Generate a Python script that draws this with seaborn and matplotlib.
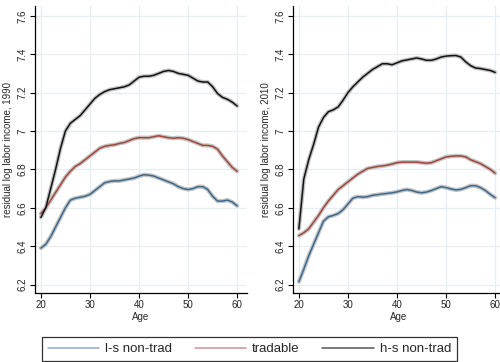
import numpy as np
import pandas as pd
import matplotlib
matplotlib.use('Agg')
import matplotlib.pyplot as plt
import seaborn as sns
from matplotlib.ticker import FormatStrFormatter, MultipleLocator

# Idades
idades = list(range(20, 61))
grupos = ['l-s non-trad', 'tradable', 'h-s non-trad']

# 1990
ls_1990 = [6.39, 6.41, 6.45, 6.50, 6.55, 6.60, 6.64, 6.65, 6.655, 6.66, 6.67,
           6.69, 6.71, 6.73, 6.737, 6.74, 6.74, 6.745, 6.75, 6.755, 6.765,
           6.772, 6.77, 6.765, 6.755, 6.745, 6.735, 6.725, 6.71, 6.70, 6.695,
           6.70, 6.71, 6.71, 6.695, 6.66, 6.635, 6.635, 6.64, 6.63, 6.61]
trad_1990 = [6.57, 6.60, 6.64, 6.68, 6.72, 6.76, 6.79, 6.815, 6.83, 6.85, 6.87,
             6.89, 6.91, 6.92, 6.925, 6.928, 6.935, 6.94, 6.95, 6.96, 6.965,
             6.965, 6.965, 6.97, 6.975, 6.97, 6.965, 6.962, 6.965, 6.962, 6.955,
             6.945, 6.935, 6.925, 6.925, 6.92, 6.905, 6.87, 6.84, 6.81, 6.79]
hs_1990 = [6.55, 6.60, 6.70, 6.80, 6.91, 7.00, 7.04, 7.06, 7.08, 7.11, 7.14,
           7.17, 7.19, 7.205, 7.215, 7.22, 7.225, 7.23, 7.24, 7.26, 7.28,
           7.285, 7.285, 7.29, 7.30, 7.31, 7.315, 7.31, 7.30, 7.295, 7.29,
           7.275, 7.26, 7.255, 7.255, 7.23, 7.195, 7.175, 7.165, 7.15, 7.13]

# 2010
ls_2010 = [6.215, 6.28, 6.35, 6.41, 6.47, 6.53, 6.553, 6.56, 6.57, 6.59, 6.62,
           6.65, 6.658, 6.655, 6.658, 6.665, 6.668, 6.672, 6.675, 6.678, 6.683,
           6.69, 6.695, 6.69, 6.682, 6.678, 6.682, 6.69, 6.70, 6.71, 6.705,
           6.698, 6.693, 6.696, 6.705, 6.715, 6.715, 6.705, 6.69, 6.67, 6.652]
trad_2010 = [6.455, 6.47, 6.49, 6.525, 6.56, 6.60, 6.635, 6.665, 6.695, 6.715, 6.735,
             6.755, 6.775, 6.79, 6.805, 6.81, 6.815, 6.818, 6.822, 6.828, 6.835,
             6.838, 6.838, 6.838, 6.838, 6.835, 6.832, 6.835, 6.845, 6.855, 6.865,
             6.868, 6.87, 6.87, 6.865, 6.85, 6.84, 6.83, 6.815, 6.80, 6.78]
hs_2010 = [6.49, 6.75, 6.85, 6.93, 7.02, 7.07, 7.10, 7.11, 7.125, 7.16, 7.20,
           7.23, 7.255, 7.28, 7.30, 7.32, 7.335, 7.35, 7.35, 7.345, 7.355,
           7.365, 7.37, 7.375, 7.38, 7.375, 7.368, 7.368, 7.375, 7.385, 7.39,
           7.392, 7.393, 7.385, 7.36, 7.34, 7.328, 7.325, 7.32, 7.315, 7.305]

cores = ['#3c6a8f', '#a2463c', '#111111']
cores_legenda = ['#92aac0', '#c99390', '#555555']


def montar_df(ls, trad, hs):
    linhas = []
    for grupo, serie in zip(grupos, [ls, trad, hs]):
        for idade, v in zip(idades, serie):
            linhas.append({'Age': idade, 'valor': v, 'grupo': grupo})
    return pd.DataFrame(linhas)


sns.set_style('white')
plt.rcParams['font.family'] = ['Liberation Sans', 'DejaVu Sans']

fig = plt.figure(figsize=(5.0, 3.62), dpi=100)
ax1 = fig.add_axes([0.070, 0.191, 0.424, 0.792])
ax2 = fig.add_axes([0.586, 0.191, 0.424, 0.792])

paineis = [(ax1, montar_df(ls_1990, trad_1990, hs_1990), 'residual log labor income, 1990'),
           (ax2, montar_df(ls_2010, trad_2010, hs_2010), 'residual log labor income, 2010')]

for ax, df, rotulo in paineis:
    # faixa de confiança (halo cinza)
    sns.lineplot(data=df, x='Age', y='valor', units='grupo', estimator=None,
                 color='#c4c4c4', linewidth=3.0, legend=False, ax=ax)
    sns.lineplot(data=df, x='Age', y='valor', hue='grupo', hue_order=grupos,
                 palette=cores, linewidth=1.1, ax=ax)
    ax.set_xlim(18.8, 62.0)
    ax.set_ylim(6.157, 7.65)
    ax.xaxis.set_major_locator(MultipleLocator(10))
    ax.yaxis.set_major_locator(MultipleLocator(0.2))
    ax.yaxis.set_major_formatter(FormatStrFormatter('%g'))
    ax.grid(True, color='#e6eef1', linewidth=0.9)
    ax.set_axisbelow(True)
    for lado in ['top', 'right']:
        ax.spines[lado].set_visible(False)
    for lado in ['left', 'bottom']:
        ax.spines[lado].set_color('black')
        ax.spines[lado].set_linewidth(0.9)
    ax.tick_params(axis='both', direction='out', length=3.5, width=0.8,
                   color='black', labelcolor='#222222', labelsize=7, pad=2,
                   left=True, bottom=True)
    for t in ax.get_yticklabels():
        t.set_rotation(90)
        t.set_va('center')
    ax.set_xlabel('Age', fontsize=7, labelpad=1)
    ax.set_ylabel(rotulo, fontsize=7, labelpad=3)
    handles, labels = ax.get_legend_handles_labels()
    ax.get_legend().remove()

for h, c in zip(handles, cores_legenda):
    h.set_color(c)
    h.set_linewidth(1.1)

leg = fig.legend(handles, labels, loc='upper left', bbox_to_anchor=(0.084, 0.069),
                 ncol=3, fontsize=9.5, frameon=True, fancybox=False,
                 handlelength=3.9, columnspacing=1.7, handletextpad=0.45,
                 borderpad=0.45, borderaxespad=0)
leg.get_frame().set_edgecolor('black')
leg.get_frame().set_linewidth(0.9)

fig.savefig('out.png', dpi=100)
